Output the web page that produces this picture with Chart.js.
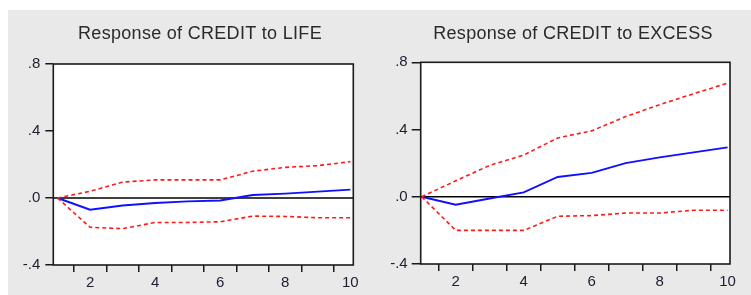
<!DOCTYPE html>
<html>
<head>
<meta charset="utf-8">
<script src="https://cdn.jsdelivr.net/npm/chart.js@4"></script>
<style>
html,body{margin:0;padding:0;}
body{width:751px;height:295px;background:#e9e9e9;position:relative;overflow:hidden;}
#topstrip{position:absolute;left:0;top:0;width:751px;height:10px;background:#fff;}
#leftstrip{position:absolute;left:0;top:0;width:8px;height:295px;background:#fff;}
.cw{position:absolute;top:0;height:295px;}
</style>
</head>
<body>
<div id="topstrip"></div>
<div id="leftstrip"></div>
<div class="cw" style="left:0;width:375px;"><canvas id="c1" width="375" height="295"></canvas></div>
<div class="cw" style="left:375px;width:376px;"><canvas id="c2" width="376" height="295"></canvas></div>
<script>
// ---- data ----
const periods = [1,2,3,4,5,6,7,8,9,10];
const xTickLabels = ['2','4','6','8','10'];
const yTickLabels = {'0.8':'.8','0.4':'.4','0':'.0','-0.4':'-.4'};
const lifeResp  = [0, -0.070, -0.045, -0.030, -0.020, -0.015, 0.018, 0.026, 0.038, 0.050];
const lifeUpper = [0, 0.040, 0.095, 0.108, 0.108, 0.108, 0.160, 0.183, 0.193, 0.217];
const lifeLower = [0, -0.175, -0.183, -0.146, -0.146, -0.142, -0.108, -0.110, -0.118, -0.118];
const excessResp  = [0, -0.047, -0.010, 0.026, 0.118, 0.142, 0.200, 0.234, 0.264, 0.294];
const excessUpper = [0, 0.095, 0.187, 0.248, 0.350, 0.392, 0.477, 0.548, 0.613, 0.676];
const excessLower = [0, -0.200, -0.200, -0.200, -0.116, -0.112, -0.097, -0.097, -0.080, -0.080];
const titles = ['Response of CREDIT to LIFE', 'Response of CREDIT to EXCESS'];

function pts(arr){ return periods.map((p,i)=>({x:p,y:arr[i]})); }

function makeChart(id, title, resp, up, lo, cfg){
  const framePlugin = {
    id:'frame',
    beforeDatasetsDraw(chart){
      const a = chart.chartArea, ctx = chart.ctx;
      ctx.save();
      ctx.fillStyle = '#ffffff';
      ctx.fillRect(a.left, a.top, a.right-a.left, a.bottom-a.top);
      const y0 = chart.scales.y.getPixelForValue(0);
      ctx.strokeStyle = '#000'; ctx.lineWidth = 1.4;
      ctx.beginPath(); ctx.moveTo(a.left, y0); ctx.lineTo(a.right, y0); ctx.stroke();
      ctx.restore();
    },
    afterDraw(chart){
      const a = chart.chartArea, ctx = chart.ctx;
      ctx.save();
      ctx.strokeStyle = '#1a1a1a'; ctx.lineWidth = 1.6;
      ctx.strokeRect(a.left, a.top, a.right-a.left, a.bottom-a.top);
      ctx.font = '18px "Liberation Sans", Arial, sans-serif';
      try{ ctx.letterSpacing = '0.3px'; }catch(e){}
      ctx.fillStyle = '#2a2a2a';
      ctx.textAlign = 'center'; ctx.textBaseline = 'middle';
      ctx.fillText(title, cfg.titleX, 34);
      ctx.restore();
    }
  };
  return new Chart(document.getElementById(id), {
    type:'line',
    data:{datasets:[
      {data:pts(up), borderColor:'#ff1a1a', borderWidth:1.6, borderDash:[4,3], pointRadius:0, tension:0, fill:false},
      {data:pts(lo), borderColor:'#ff1a1a', borderWidth:1.6, borderDash:[4,3], pointRadius:0, tension:0, fill:false},
      {data:pts(resp), borderColor:'#1010ff', borderWidth:1.9, pointRadius:0, tension:0, fill:false}
    ]},
    options:{
      responsive:false, animation:false, devicePixelRatio:1,
      layout:{padding:{left:0, top:cfg.top, right:cfg.right, bottom:0}},
      plugins:{legend:{display:false}, tooltip:{enabled:false}, title:{display:false}},
      scales:{
        x:{
          type:'linear', min:cfg.xmin, max:cfg.xmax,
          afterBuildTicks(s){
            const t=[]; for(let v=1.5; v<=10.01; v+=0.5){ t.push({value:v}); }
            s.ticks = t;
          },
          afterFit(s){ s.height = cfg.xh; },
          border:{display:false},
          grid:{drawOnChartArea:false, tickLength:7, lineWidth:1.5,
            tickColor:(c)=> (Number.isInteger(c.tick.value) ? 'rgba(0,0,0,0)' : '#1a1a1a')},
          ticks:{autoSkip:false, maxRotation:0, padding:2, color:'#1e1e30',
            font:{family:'"Liberation Sans", Arial, sans-serif', size:15},
            callback:(v)=>{ const s=String(v); return xTickLabels.includes(s) ? s : ''; }}
        },
        y:{
          min:-0.4, max:0.8,
          afterBuildTicks(s){ s.ticks = [-0.4,0,0.4,0.8].map(v=>({value:v})); },
          afterFit(s){ s.width = cfg.yw; },
          border:{display:false},
          grid:{drawOnChartArea:false, tickLength:cfg.ytl, lineWidth:1.5, tickColor:'#1a1a1a'},
          ticks:{padding:cfg.ypad, color:'#1e1e30',
            font:{family:'"Liberation Sans", Arial, sans-serif', size:15},
            callback:(v)=>{ const k = String(Math.round(v*10)/10); return yTickLabels[k] || ''; }}
        }
      }
    },
    plugins:[framePlugin]
  });
}

makeChart('c1', titles[0], lifeResp, lifeUpper, lifeLower,
  {top:64, right:375-353.3, xh:295-265, yw:53.3, ytl:8, ypad:5, xmin:0.87, xmax:10.09, titleX:200});
makeChart('c2', titles[1], excessResp, excessUpper, excessLower,
  {top:62.3, right:376-355, xh:295-264, yw:45.7, ytl:9, ypad:4, xmin:0.97, xmax:10.07, titleX:198});
</script>
</body>
</html>
